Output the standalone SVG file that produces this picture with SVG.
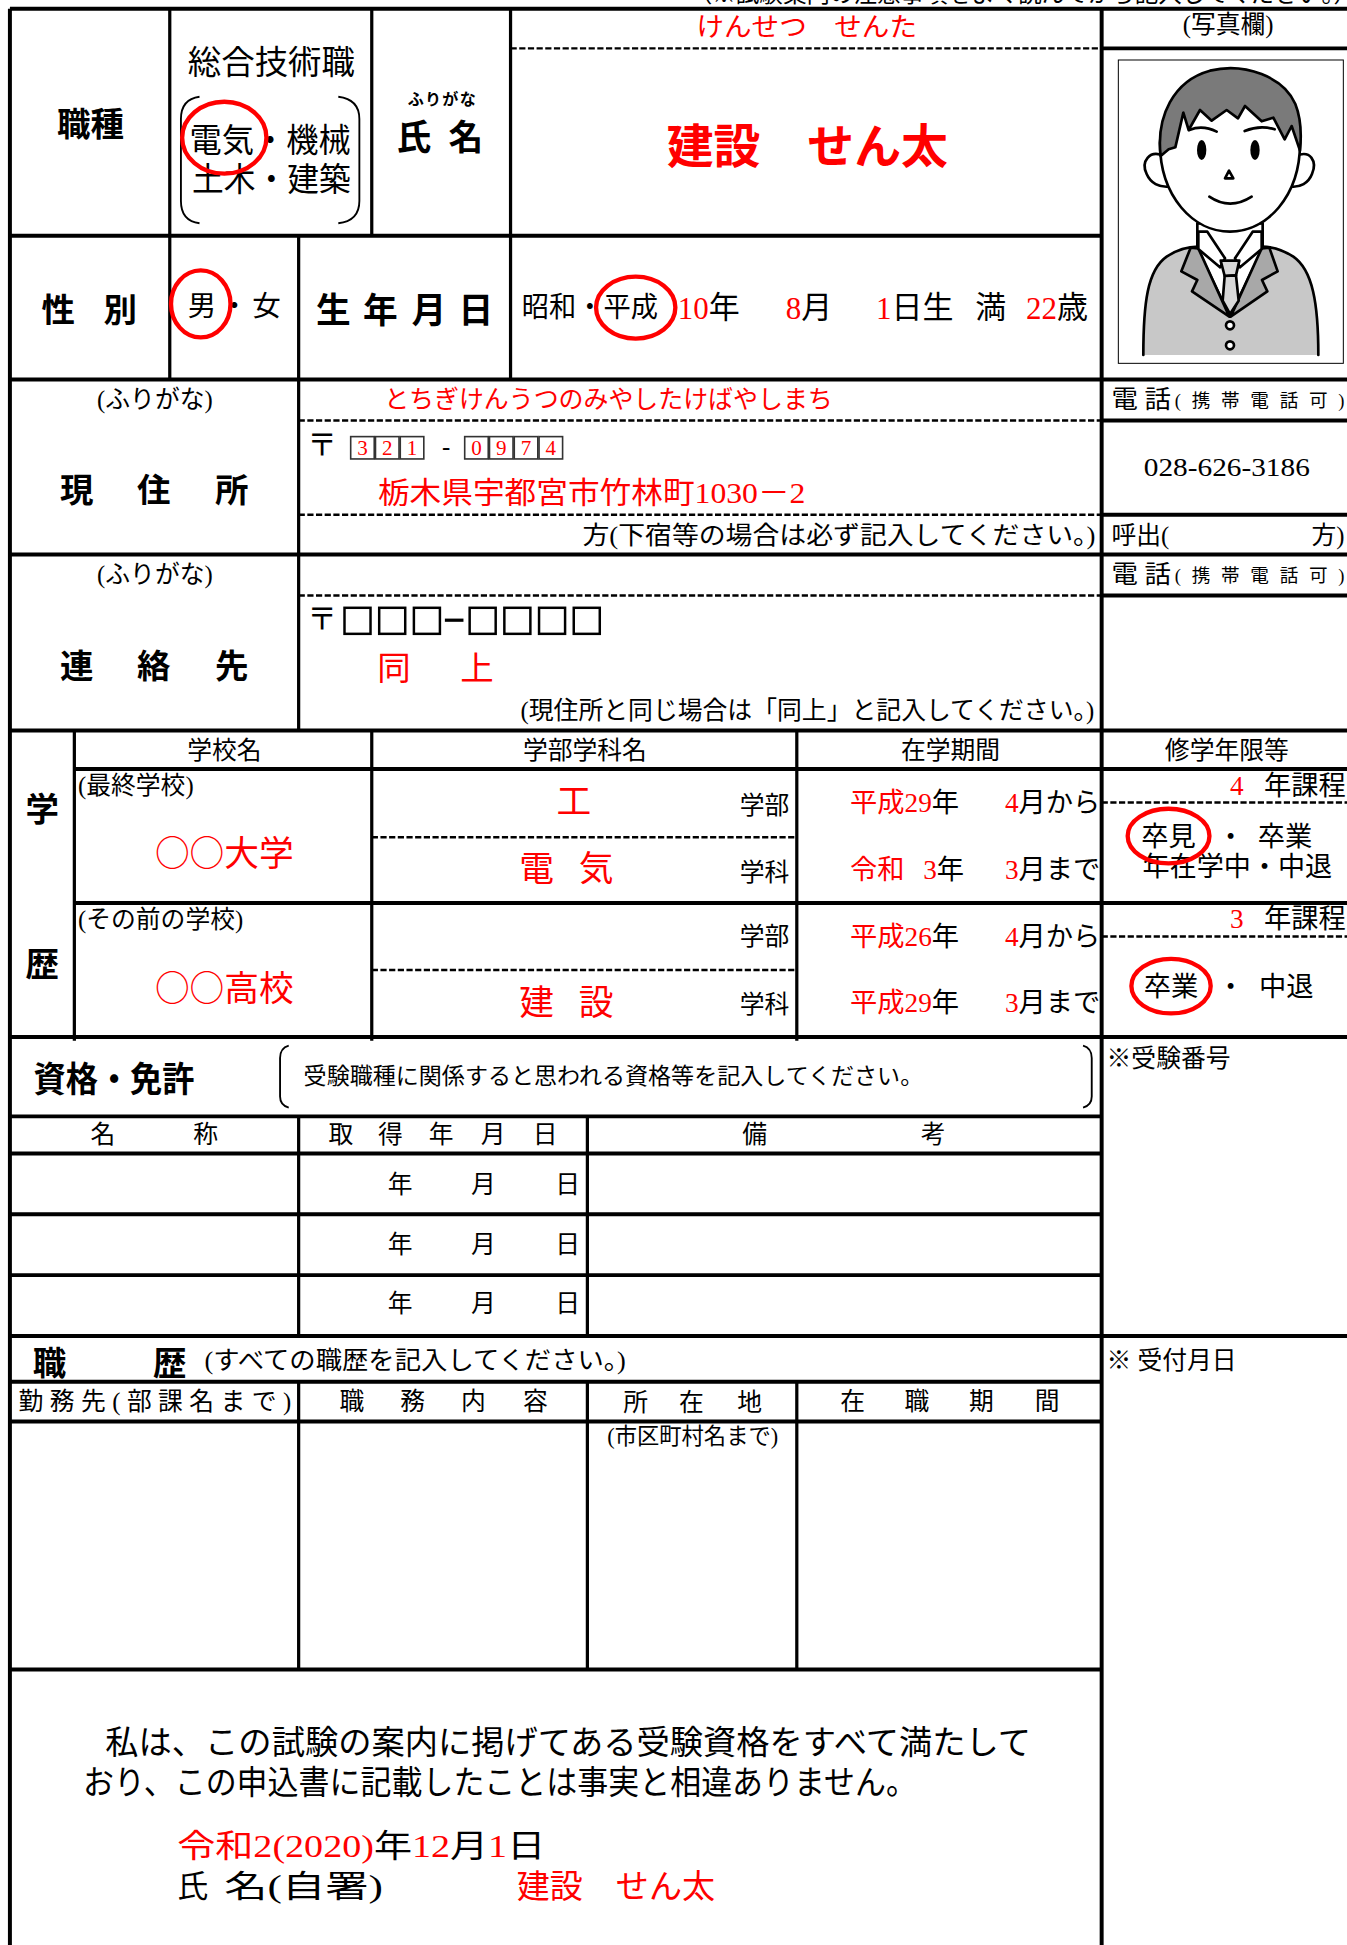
<svg xmlns="http://www.w3.org/2000/svg" width="1347" height="1945" viewBox="0 0 1347 1945">
<style>
.t{font-family:"Liberation Serif","Noto Sans CJK JP",serif;fill:#000;dominant-baseline:central}
.j{font-family:"Noto Sans CJK JP","Liberation Sans",sans-serif;fill:#000;dominant-baseline:central}
.b{font-family:"Noto Sans CJK JP","Liberation Sans",sans-serif;font-weight:bold;fill:#000;dominant-baseline:central}
.r{fill:#f00}
.c{text-anchor:middle}
.e{text-anchor:end}
.L{fill:none;stroke:#000;stroke-width:2.6}
.T{fill:none;stroke:#000;stroke-width:3.2}
.D{fill:none;stroke:#000;stroke-width:2;stroke-dasharray:5 2}
.O{fill:none;stroke:#f00;stroke-width:3.5}
.k{fill:none;stroke:#000;stroke-width:1.5}
.bx{fill:#fff;stroke:#333;stroke-width:1.3}
.bx2{fill:#fff;stroke:#000;stroke-width:2}
.p{stroke:#000;stroke-width:8;stroke-linejoin:round;stroke-linecap:round}
</style>
<rect x="0" y="0" width="1347" height="1945" fill="#fff"/>
<g transform="scale(1.2392,1.2404)">
<g id="connectors">
<path class="T" d="M8,7H1090 M8,7V1570 M889,7V1570"/>
<path class="T" d="M889,39H1090 M8,190H889 M8,306H1090 M889,339H1090 M889,415H1090 M8,447H1090 M889,480H1090 M8,589H1090 M60,620H1090 M60,728H1090 M8,836H1090 M8,900H889 M8,930H889 M8,979H889 M8,1028H889 M8,1077H1090 M8,1114H889 M8,1146H889 M8,1346H889"/>
<path class="L" d="M137,7V306 M300,7V190 M412,7V306 M241,190V589 M60,589V839 M300,589V839 M643,589V839 M241,900V1077 M474,900V1077 M241,1114V1346 M474,1114V1346 M643,1114V1346"/>
<path class="D" d="M412,39H889 M241,339H889 M241,415H889 M241,480H889 M300,675H643 M300,782H643 M889,647H1090 M889,755H1090"/>
</g>

<text class="t e" x="1095" y="-5" font-size="19">（※試験案内の注意事項をよく読んでから記入してください。）</text>

<g id="shokushu">
<text class="b c" x="73" y="98" font-size="27">職種</text>
<text class="t c" x="219" y="50" font-size="27">総合技術職</text>
<path class="k" d="M161,78 Q146,80 146,96 L146,162 Q146,178 161,180 M273,78 Q290,80 290,96 L290,162 Q290,178 273,180"/>
<text class="t" x="153" y="113" font-size="27" textLength="130" lengthAdjust="spacingAndGlyphs">電気・機械</text>
<text class="t" x="155" y="145" font-size="27" textLength="128" lengthAdjust="spacingAndGlyphs">土木・建築</text>
<ellipse class="O" cx="181" cy="111" rx="34" ry="29"/>
</g>

<g id="shimei">
<text class="b c" x="357" y="79" font-size="13" letter-spacing="1">ふりがな</text>
<text class="b" x="320" y="109" font-size="28">氏</text>
<text class="b" x="362" y="109" font-size="28">名</text>
<text class="t r" x="562" y="22" font-size="21" textLength="178" lengthAdjust="spacingAndGlyphs">けんせつ　せんた</text>
<text class="b r" x="538" y="115" font-size="38" textLength="227" lengthAdjust="spacingAndGlyphs">建設　せん太</text>
</g>

<g id="shashin">
<text class="t c" x="991" y="20" font-size="20">(写真欄)</text>
</g>

<g id="seibetsu">
<text class="b c" x="47" y="248" font-size="27">性</text>
<text class="b c" x="97" y="248" font-size="27">別</text>
<text class="t c" x="163" y="247" font-size="23">男</text>
<text class="t c" x="189" y="247" font-size="23">・</text>
<text class="t c" x="215" y="247" font-size="23">女</text>
<ellipse class="O" cx="162" cy="245" rx="24" ry="27"/>
</g>

<g id="seinengappi">
<text class="b c" x="269" y="248" font-size="28">生</text>
<text class="b c" x="307" y="248" font-size="28">年</text>
<text class="b c" x="346" y="248" font-size="28">月</text>
<text class="b c" x="384" y="248" font-size="28">日</text>
<text class="t" x="421" y="248" font-size="23" textLength="110" lengthAdjust="spacingAndGlyphs">昭和・平成</text>
<ellipse class="O" cx="513" cy="248" rx="32" ry="25"/>
<text class="t" x="547" y="248" font-size="25"><tspan class="r">10</tspan>年</text>
<text class="t" x="634" y="248" font-size="25"><tspan class="r">8</tspan>月</text>
<text class="t" x="707" y="248" font-size="25"><tspan class="r">1</tspan>日生</text>
<text class="t" x="787" y="248" font-size="25">満</text>
<text class="t" x="828" y="248" font-size="25"><tspan class="r">22</tspan>歳</text>
</g>

<g id="genjusho">
<text class="t c" x="125" y="322" font-size="20">(ふりがな)</text>
<text class="b c" x="62" y="393" font-size="27">現</text>
<text class="b c" x="124" y="393" font-size="27">住</text>
<text class="b c" x="187" y="393" font-size="27">所</text>
<text class="t r" x="310" y="322" font-size="20" textLength="362" lengthAdjust="spacingAndGlyphs">とちぎけんうつのみやしたけばやしまち</text>
<text class="t c" x="260" y="358" font-size="24">〒</text>
<rect class="bx" x="283" y="352" width="19" height="18"/>
<rect class="bx" x="303" y="352" width="19" height="18"/>
<rect class="bx" x="323" y="352" width="19" height="18"/>
<rect class="bx" x="375" y="352" width="19" height="18"/>
<rect class="bx" x="395" y="352" width="19" height="18"/>
<rect class="bx" x="415" y="352" width="19" height="18"/>
<rect class="bx" x="435" y="352" width="19" height="18"/>
<text class="t r c" x="292.5" y="361" font-size="17">3</text>
<text class="t r c" x="312.5" y="361" font-size="17">2</text>
<text class="t r c" x="332.5" y="361" font-size="17">1</text>
<text class="t r c" x="384.5" y="361" font-size="17">0</text>
<text class="t r c" x="404.5" y="361" font-size="17">9</text>
<text class="t r c" x="424.5" y="361" font-size="17">7</text>
<text class="t r c" x="444.5" y="361" font-size="17">4</text>
<text class="t c" x="360" y="360" font-size="20">-</text>
<text class="t r" x="305" y="397" font-size="24" textLength="345" lengthAdjust="spacingAndGlyphs">栃木県宇都宮市竹林町1030－2</text>
<text class="t" x="470" y="432" font-size="20" textLength="414" lengthAdjust="spacingAndGlyphs">方(下宿等の場合は必ず記入してください。)</text>
</g>

<g id="denwa1">
<text class="t" x="897" y="322" font-size="20" textLength="48" lengthAdjust="spacingAndGlyphs">電 話</text>
<text class="t" x="948" y="323" font-size="15" textLength="137" lengthAdjust="spacing">( 携 帯 電 話 可 )</text>
<text class="t" x="923" y="377" font-size="20" textLength="134" lengthAdjust="spacingAndGlyphs">028-626-3186</text>
<text class="t" x="897" y="432" font-size="20">呼出(</text>
<text class="t e" x="1085" y="432" font-size="20">方)</text>
</g>

<g id="renrakusaki">
<text class="t c" x="125" y="463" font-size="20">(ふりがな)</text>
<text class="b c" x="62" y="535" font-size="27">連</text>
<text class="b c" x="124" y="535" font-size="27">絡</text>
<text class="b c" x="187" y="535" font-size="27">先</text>
<text class="t c" x="260" y="499" font-size="24">〒</text>
<rect class="bx2" x="278" y="490" width="21" height="21"/>
<rect class="bx2" x="306" y="490" width="21" height="21"/>
<rect class="bx2" x="334" y="490" width="21" height="21"/>
<path class="L" d="M359,500H374" stroke-width="2"/>
<rect class="bx2" x="379" y="490" width="21" height="21"/>
<rect class="bx2" x="407" y="490" width="21" height="21"/>
<rect class="bx2" x="435" y="490" width="21" height="21"/>
<rect class="bx2" x="463" y="490" width="21" height="21"/>
<text class="t r c" x="318" y="539" font-size="27">同</text>
<text class="t r c" x="385" y="539" font-size="27">上</text>
<text class="t" x="420" y="573" font-size="20" textLength="463" lengthAdjust="spacingAndGlyphs">(現住所と同じ場合は「同上」と記入してください。)</text>
</g>

<g id="denwa2">
<text class="t" x="897" y="463" font-size="20" textLength="48" lengthAdjust="spacingAndGlyphs">電 話</text>
<text class="t" x="948" y="464" font-size="15" textLength="137" lengthAdjust="spacing">( 携 帯 電 話 可 )</text>
</g>

<g id="gakureki">
<text class="b c" x="34" y="650" font-size="27">学</text>
<text class="b c" x="34" y="775" font-size="27">歴</text>
<text class="t c" x="181" y="605" font-size="20">学校名</text>
<text class="t c" x="472" y="605" font-size="20">学部学科名</text>
<text class="t c" x="767" y="605" font-size="20">在学期間</text>
<text class="t c" x="990" y="605" font-size="20">修学年限等</text>
<text class="t" x="63" y="633" font-size="20">(最終学校)</text>
<text class="j r c" x="181" y="686" font-size="28">○○大学</text>
<text class="t" x="63" y="741" font-size="20">(その前の学校)</text>
<text class="j r c" x="181" y="795" font-size="28">○○高校</text>
<text class="t r c" x="463" y="647" font-size="28">工</text>
<text class="t r c" x="433" y="701" font-size="28">電</text>
<text class="t r c" x="481" y="701" font-size="28">気</text>
<text class="t r c" x="433" y="809" font-size="28">建</text>
<text class="t r c" x="481" y="809" font-size="28">設</text>
<text class="t c" x="617" y="649" font-size="20">学部</text>
<text class="t c" x="617" y="703" font-size="20">学科</text>
<text class="t c" x="617" y="755" font-size="20">学部</text>
<text class="t c" x="617" y="810" font-size="20">学科</text>
<text class="t" x="686" y="647" font-size="22"><tspan class="r">平成29</tspan>年</text>
<text class="t" x="811" y="647" font-size="22"><tspan class="r">4</tspan>月から</text>
<text class="t" x="686" y="701" font-size="22"><tspan class="r">令和</tspan><tspan class="r" x="745">3</tspan>年</text>
<text class="t" x="811" y="701" font-size="22"><tspan class="r">3</tspan>月まで</text>
<text class="t" x="686" y="755" font-size="22"><tspan class="r">平成26</tspan>年</text>
<text class="t" x="811" y="755" font-size="22"><tspan class="r">4</tspan>月から</text>
<text class="t" x="686" y="809" font-size="22"><tspan class="r">平成29</tspan>年</text>
<text class="t" x="811" y="809" font-size="22"><tspan class="r">3</tspan>月まで</text>
</g>

<g id="shugaku">
<text class="t r c" x="998" y="634" font-size="22">4</text>
<text class="t" x="1020" y="634" font-size="22">年課程</text>
<text class="t c" x="943" y="675" font-size="22">卒見</text>
<text class="t c" x="993" y="675" font-size="22">・</text>
<text class="t c" x="1037" y="675" font-size="22">卒業</text>
<text class="t" x="922" y="699" font-size="22" textLength="153" lengthAdjust="spacingAndGlyphs">年在学中・中退</text>
<ellipse class="O" cx="943" cy="674" rx="33" ry="22"/>
<text class="t r c" x="998" y="741" font-size="22">3</text>
<text class="t" x="1020" y="741" font-size="22">年課程</text>
<text class="t c" x="945" y="796" font-size="22">卒業</text>
<text class="t c" x="993" y="796" font-size="22">・</text>
<text class="t c" x="1038" y="796" font-size="22">中退</text>
<ellipse class="O" cx="945" cy="795" rx="32" ry="22"/>
</g>

<g id="shikaku">
<text class="b" x="27" y="868" font-size="28" textLength="130" lengthAdjust="spacingAndGlyphs">資格・免許</text>
<path class="k" d="M233,843 Q226,845 226,853 L226,884 Q226,891 233,893 M874,843 Q881,845 881,853 L881,884 Q881,891 874,893"/>
<text class="t" x="245" y="868" font-size="18" textLength="500" lengthAdjust="spacingAndGlyphs">受験職種に関係すると思われる資格等を記入してください。</text>
<text class="t c" x="83" y="915" font-size="20">名</text>
<text class="t c" x="166" y="915" font-size="20">称</text>
<text class="t c" x="275" y="915" font-size="20">取</text>
<text class="t c" x="315" y="915" font-size="20">得</text>
<text class="t c" x="356" y="915" font-size="20">年</text>
<text class="t c" x="398" y="915" font-size="20">月</text>
<text class="t c" x="440" y="915" font-size="20">日</text>
<text class="t c" x="609" y="915" font-size="20">備</text>
<text class="t c" x="753" y="915" font-size="20">考</text>
<text class="t c" x="323" y="955" font-size="20">年</text>
<text class="t c" x="390" y="955" font-size="20">月</text>
<text class="t c" x="458" y="955" font-size="20">日</text>
<text class="t c" x="323" y="1003" font-size="20">年</text>
<text class="t c" x="390" y="1003" font-size="20">月</text>
<text class="t c" x="458" y="1003" font-size="20">日</text>
<text class="t c" x="323" y="1051" font-size="20">年</text>
<text class="t c" x="390" y="1051" font-size="20">月</text>
<text class="t c" x="458" y="1051" font-size="20">日</text>
</g>

<g id="juken">
<text class="t" x="893" y="853" font-size="20">※受験番号</text>
<text class="t" x="893" y="1097" font-size="20">※ 受付月日</text>
</g>

<g id="shokureki">
<text class="b c" x="40" y="1097" font-size="27">職</text>
<text class="b c" x="137" y="1097" font-size="27">歴</text>
<text class="t" x="165" y="1097" font-size="20" textLength="340" lengthAdjust="spacingAndGlyphs">(すべての職歴を記入してください。)</text>
<text class="t" x="15" y="1130" font-size="20" textLength="220" lengthAdjust="spacing">勤務先(部課名まで)</text>
<text class="t c" x="284" y="1130" font-size="20">職</text>
<text class="t c" x="333" y="1130" font-size="20">務</text>
<text class="t c" x="382" y="1130" font-size="20">内</text>
<text class="t c" x="432" y="1130" font-size="20">容</text>
<text class="t c" x="513" y="1131" font-size="20">所</text>
<text class="t c" x="558" y="1131" font-size="20">在</text>
<text class="t c" x="605" y="1131" font-size="20">地</text>
<text class="t c" x="688" y="1130" font-size="20">在</text>
<text class="t c" x="740" y="1130" font-size="20">職</text>
<text class="t c" x="792" y="1130" font-size="20">期</text>
<text class="t c" x="845" y="1130" font-size="20">間</text>
<text class="t c" x="559" y="1158" font-size="18">(市区町村名まで)</text>
</g>

<g id="sengen">
<text class="t" x="85" y="1405" font-size="27" textLength="747" lengthAdjust="spacingAndGlyphs">私は、この試験の案内に掲げてある受験資格をすべて満たして</text>
<text class="t" x="67" y="1437" font-size="27" textLength="673" lengthAdjust="spacingAndGlyphs">おり、この申込書に記載したことは事実と相違ありません。</text>
<text class="t" x="143" y="1488" font-size="26" textLength="297" lengthAdjust="spacingAndGlyphs"><tspan class="r">令和2(2020)</tspan>年<tspan class="r">12</tspan>月<tspan class="r">1</tspan>日</text>
<text class="t" x="143" y="1521" font-size="25">氏</text>
<text class="t" x="181" y="1521" font-size="25" textLength="128" lengthAdjust="spacingAndGlyphs">名(自署)</text>
<text class="t r" x="417" y="1521" font-size="27" textLength="160" lengthAdjust="spacingAndGlyphs">建設　せん太</text>
</g>
</g>

<g id="photo" transform="translate(1110,50) scale(0.33333)">
<rect x="25" y="30" width="675" height="910" fill="#fff" stroke="#000" stroke-width="3"/>
<path d="M100,915 C100,760 112,660 170,620 C205,597 240,590 265,590 L455,590 C480,590 515,597 550,620 C608,660 625,760 625,915 Z" fill="#c8c8c8"/>
<path class="p" fill="none" d="M100,915 C100,760 112,660 170,620 C205,597 240,590 265,590 L455,590 C480,590 515,597 550,620 C608,660 625,760 625,915"/>
<path class="p" fill="#fff" d="M262,520 L262,595 L360,800 L458,595 L458,520 Z"/>
<path class="p" fill="#a8a8a8" d="M242,593 L214,664 L262,690 L246,724 L358,800 L265,595 Z"/>
<path class="p" fill="#a8a8a8" d="M478,593 L503,664 L456,690 L472,724 L362,800 L455,595 Z"/>
<path class="p" fill="#fff" d="M265,545 L292,545 L345,625 L330,652 L265,597 Z"/>
<path class="p" fill="#fff" d="M455,545 L428,545 L375,625 L390,652 L455,597 Z"/>
<path class="p" fill="#d8d8d8" d="M332,632 L388,632 L378,676 L344,678 Z"/>
<path class="p" fill="#d8d8d8" d="M344,678 L378,676 L386,752 L360,792 L338,752 Z"/>
<circle class="p" cx="360" cy="826" r="12" fill="#fff" stroke-width="7"/>
<circle class="p" cx="360" cy="886" r="12" fill="#fff" stroke-width="7"/>
<path class="p" fill="#fff" d="M162,318 C118,298 92,335 110,372 C122,400 148,412 175,410 Z"/>
<path class="p" fill="#fff" d="M558,318 C602,298 622,335 606,372 C595,400 570,412 545,410 Z"/>
<path class="p" fill="#fff" d="M150,280 C150,110 570,110 570,280 C570,440 470,545 360,545 C250,545 150,440 150,280 Z"/>
<path class="p" fill="#7a7a7a" d="M152,318 C138,200 190,92 300,62 C405,36 522,82 556,162 C576,212 574,262 570,302 L545,228 L524,268 L490,203 L455,214 L405,168 L384,205 L350,180 L305,212 L270,180 L236,240 L220,188 L196,292 L176,298 Z"/>
<path class="p" fill="none" d="M238,240 Q278,224 320,245 M404,243 Q450,224 494,238"/>
<ellipse cx="275" cy="300" rx="14" ry="30" fill="#000"/>
<ellipse cx="435" cy="300" rx="14" ry="30" fill="#000"/>
<path class="p" fill="#fff" stroke-width="6" d="M357,362 L345,385 L370,385 Z"/>
<path class="p" fill="none" d="M298,440 Q360,482 425,440"/>
</g>
</svg>
